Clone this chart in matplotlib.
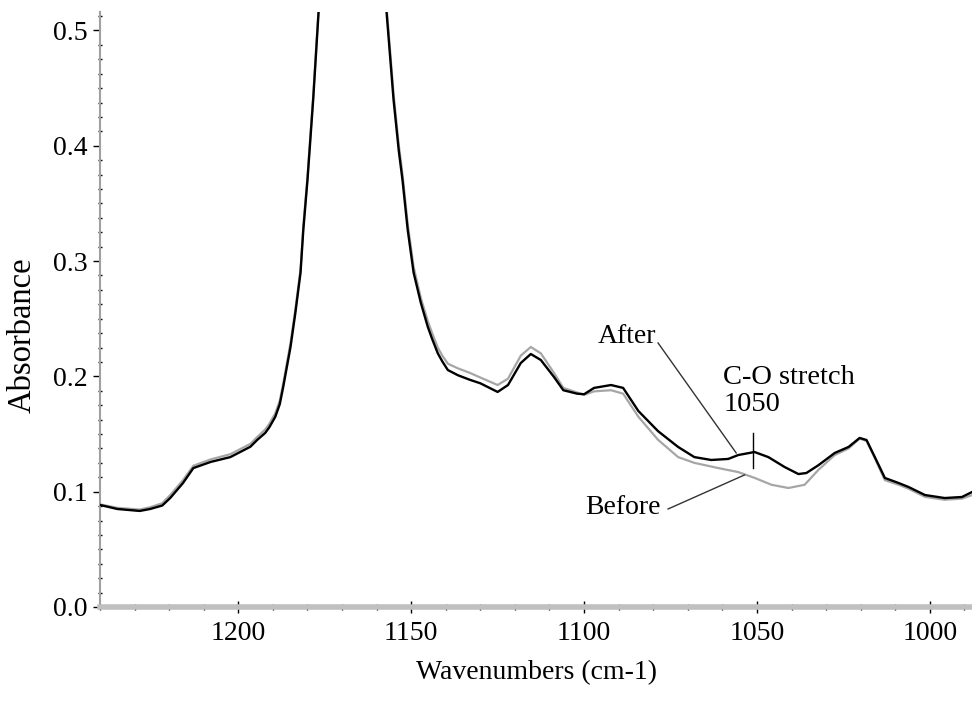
import numpy as np
import matplotlib
matplotlib.use("Agg")
from matplotlib import pyplot as plt
from matplotlib.ticker import MultipleLocator

# -----------------------------
# DATA
# -----------------------------
# "After" spectrum (black)
after_wn = [1240, 1235, 1228.5, 1225.5, 1222, 1219.7, 1216, 1213, 1208, 1202.3,
            1196.5, 1194.5, 1192.2, 1191, 1189.3, 1188, 1187, 1184.9, 1183.5, 1182,
            1181.2, 1180, 1179.1, 1178.3, 1176.8, 1175, 1171, 1167, 1162, 1159,
            1157.1, 1155.1, 1153.6, 1152.5, 1151, 1149.3, 1147.2, 1145.2, 1144, 1142.3,
            1141, 1139.4, 1136.5, 1133, 1130, 1125, 1122, 1118.3, 1115.4, 1112.5,
            1108.7, 1106, 1102, 1100, 1097.1, 1092.2, 1088.7, 1084.3, 1078.6, 1072.8,
            1068.1, 1063.2, 1058.3, 1055.4, 1050.7, 1046.7, 1042, 1038, 1035.7, 1032.2,
            1027.5, 1023.5, 1020.3, 1018.3, 1015.9, 1013, 1009, 1006.1, 1001.4, 995.7,
            990.7, 987.8]
after_abs = [0.0885, 0.0850, 0.0833, 0.0850, 0.0880, 0.0945, 0.1075, 0.1205, 0.1258, 0.1300,
             0.1390, 0.1450, 0.1510, 0.1560, 0.1650, 0.1760, 0.1910, 0.2255, 0.2550, 0.2900,
             0.3270, 0.3700, 0.4080, 0.4420, 0.5150, 0.6000, 0.7500, 0.8200, 0.7400, 0.6000,
             0.5150, 0.4400, 0.3960, 0.3700, 0.3270, 0.2900, 0.2637, 0.2430, 0.2330, 0.2200,
             0.2130, 0.2055, 0.2010, 0.1970, 0.1940, 0.1865, 0.1925, 0.2116, 0.2194, 0.2142,
             0.1995, 0.1880, 0.1850, 0.1845, 0.1900, 0.1925, 0.1900, 0.1700, 0.1525, 0.1388,
             0.1300, 0.1275, 0.1284, 0.1318, 0.1344, 0.1300, 0.1214, 0.1153, 0.1162, 0.1230,
             0.1336, 0.1388, 0.1466, 0.1448, 0.1300, 0.1119, 0.1075, 0.1040, 0.0971, 0.0945,
             0.0954, 0.0997]

# "Before" spectrum (grey)
before_wn = [1240, 1235, 1228.5, 1225.5, 1222, 1219.7, 1216, 1213, 1208, 1202.3,
             1196.5, 1194.5, 1192.2, 1191, 1189.3, 1188, 1187, 1184.9, 1183.5, 1182,
             1181.2, 1180, 1179.1, 1178.3, 1176.8, 1175, 1171, 1167, 1162, 1159,
             1157.1, 1155.1, 1153.6, 1152.5, 1151, 1149.3, 1147.2, 1145.2, 1144, 1142.3,
             1141, 1139.4, 1136.5, 1133, 1130, 1125, 1122, 1118.3, 1115.4, 1112.5,
             1108.7, 1106, 1102, 1100, 1097.1, 1092.2, 1088.7, 1084.3, 1078.6, 1072.8,
             1068.1, 1061.2, 1055.4, 1050.7, 1045.8, 1040.9, 1036.2, 1032.2, 1027.5, 1023.5,
             1020.3, 1018.3, 1015.9, 1013, 1009, 1006.1, 1001.4, 995.7, 990.7, 987.8]
before_abs = [0.0890, 0.0860, 0.0845, 0.0865, 0.0900, 0.0970, 0.1100, 0.1225, 0.1280, 0.1325,
              0.1415, 0.1475, 0.1540, 0.1590, 0.1680, 0.1790, 0.1940, 0.2290, 0.2580, 0.2930,
              0.3300, 0.3730, 0.4110, 0.4450, 0.5180, 0.6030, 0.7530, 0.8230, 0.7450, 0.6050,
              0.5200, 0.4450, 0.4010, 0.3750, 0.3320, 0.2950, 0.2680, 0.2480, 0.2380, 0.2250,
              0.2180, 0.2110, 0.2070, 0.2030, 0.1990, 0.1925, 0.1980, 0.2180, 0.2255, 0.2200,
              0.2030, 0.1900, 0.1860, 0.1840, 0.1870, 0.1880, 0.1850, 0.1650, 0.1450, 0.1300,
              0.1250, 0.1205, 0.1170, 0.1120, 0.1060, 0.1032, 0.1060, 0.1190, 0.1318, 0.1375,
              0.1460, 0.1440, 0.1290, 0.1100, 0.1060, 0.1025, 0.0955, 0.0930, 0.0940, 0.0970]

# -----------------------------
# FIGURE
# -----------------------------
plt.rcParams['font.family'] = ['Liberation Serif', 'DejaVu Serif']

fig = plt.figure(figsize=(9.72, 7.02), dpi=100)
ax = fig.add_axes([100 / 972, 95 / 702, 872 / 972, 595 / 702])

ax.plot(before_wn, before_abs, color="#a6a6a6", linewidth=1.6, zorder=2)
ax.plot(after_wn, after_abs, color="black", linewidth=1.7, zorder=3)

ax.set_xlim(1240, 987.8)
ax.set_ylim(0, 0.516)

ax.xaxis.set_major_locator(MultipleLocator(50))
ax.xaxis.set_minor_locator(MultipleLocator(10))
ax.yaxis.set_major_locator(MultipleLocator(0.1))
ax.yaxis.set_minor_locator(MultipleLocator(0.0125))
ax.yaxis.set_major_formatter(plt.FormatStrFormatter('%.1f'))

for side in ("top", "right"):
    ax.spines[side].set_visible(False)
ax.spines["left"].set_color("#a0a0a0")
ax.spines["left"].set_linewidth(1.5)
ax.spines["bottom"].set_color("#c0c0c0")
ax.spines["bottom"].set_linewidth(4)

ax.tick_params(axis="x", which="major", direction="inout", length=8, width=1,
               color="black", labelsize=20, pad=6)
ax.tick_params(axis="x", which="minor", direction="inout", length=5, width=1, color="black")
ax.tick_params(axis="y", which="major", direction="out", length=5, width=1,
               color="black", labelsize=20, pad=4)
ax.tick_params(axis="y", which="minor", direction="inout", length=3, width=1, color="black")

ax.set_xlabel("Wavenumbers (cm-1)", fontsize=20, va="center")
ax.xaxis.set_label_coords(0.5, -0.111)
ax.set_ylabel("Absorbance", fontsize=23.5, va="center")
ax.yaxis.set_label_coords(-78 / 872, 0.457)

# annotations
ax.text(1079.1, 0.235, "After", fontsize=20, ha="right", va="center")
ax.plot([1078.6, 1056.0], [0.229, 0.1336], color="#333333", linewidth=1)
ax.text(1059.7, 0.1873, "C-O stretch\n1050", fontsize=20.5, ha="left", va="center",
        linespacing=1.15)
ax.plot([1051.0, 1051.0], [0.151, 0.1206], color="black", linewidth=1)
ax.text(1077.7, 0.0859, "Before", fontsize=20, ha="right", va="center")
ax.plot([1075.7, 1053.6], [0.085, 0.1145], color="#333333", linewidth=1)

fig.savefig("out.png", dpi=100)
